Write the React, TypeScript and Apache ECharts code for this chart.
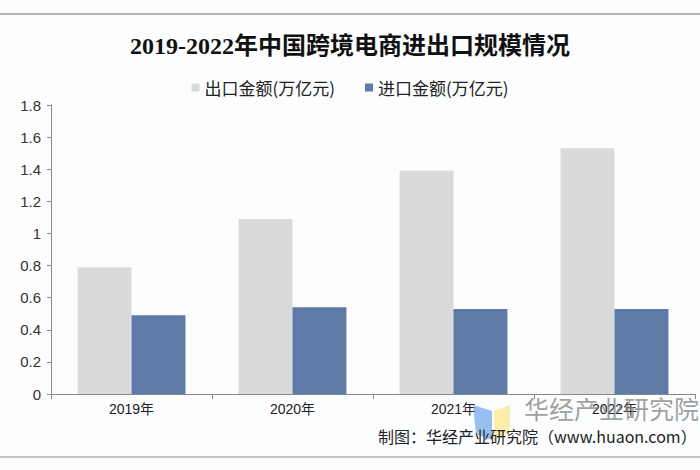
import React, { useEffect, useRef } from "react";
import * as echarts from "echarts";

const categories = ["2019年", "2020年", "2021年", "2022年"];
const exportValues = [0.79, 1.09, 1.39, 1.53];
const importValues = [0.49, 0.54, 0.53, 0.53];
const seriesNames = ["出口金额(万亿元)", "进口金额(万亿元)"];
const titleText = "2019-2022年中国跨境电商进出口规模情况";
const sourceText = "制图：华经产业研究院（www.huaon.com）";
const watermarkText = "华经产业研究院";

export default function App() {
  const ref = useRef<HTMLDivElement>(null);
  useEffect(() => {
    document.body.style.margin = "0";
    const chart = echarts.init(ref.current!, null, { renderer: "svg" });
    chart.setOption({
      animation: false,
      backgroundColor: "#fcfdfe",
      title: {
        text: titleText,
        left: "center",
        top: 29,
        textStyle: {
          fontFamily: "'Liberation Serif', 'Noto Sans CJK SC', serif",
          fontWeight: "bold",
          fontSize: 24,
          color: "#111",
        },
      },
      legend: {
        top: 74,
        left: "center",
        itemWidth: 8,
        itemHeight: 8,
        itemGap: 30,
        icon: "rect",
        textStyle: {
          fontFamily: "'Noto Sans CJK SC', sans-serif",
          fontSize: 17,
          color: "#222",
        },
        data: seriesNames,
      },
      grid: { left: 51, right: 5, top: 105, bottom: 76, containLabel: false },
      xAxis: {
        type: "category",
        data: categories,
        axisLine: { lineStyle: { color: "#888" } },
        axisTick: { show: true, length: 5, lineStyle: { color: "#888" } },
        axisLabel: {
          fontFamily: "'Liberation Sans', 'Noto Sans CJK SC', sans-serif",
          fontSize: 14,
          color: "#222",
          margin: 8,
        },
      },
      yAxis: {
        type: "value",
        min: 0,
        max: 1.8,
        interval: 0.2,
        axisLine: { show: true, lineStyle: { color: "#888" } },
        axisTick: { show: true, length: 4, lineStyle: { color: "#888" } },
        splitLine: { show: false },
        axisLabel: {
          fontFamily: "'Liberation Sans', sans-serif",
          fontSize: 15,
          color: "#333",
          margin: 10,
        },
      },
      series: [
        {
          name: seriesNames[0],
          type: "bar",
          data: exportValues,
          barGap: "0%",
          barCategoryGap: "33%",
          itemStyle: { color: "#d9dadc" },
        },
        {
          name: seriesNames[1],
          type: "bar",
          data: importValues,
          itemStyle: { color: "#5f7aa7" },
        },
      ],
      graphic: [
        { type: "line", shape: { x1: 0, y1: 14, x2: 700, y2: 14 }, style: { stroke: "#b5b5b5", lineWidth: 2 } },
        { type: "line", shape: { x1: 0, y1: 457, x2: 700, y2: 457 }, style: { stroke: "#b5b5b5", lineWidth: 1.5 } },
        {
          type: "polygon",
          shape: { points: [[473, 405], [492, 411], [492, 440], [476, 434]] },
          style: { fill: "rgba(120,170,235,0.75)" },
          z: 10,
        },
        {
          type: "polygon",
          shape: { points: [[494, 411], [510, 405], [510, 432], [494, 440]] },
          style: { fill: "rgba(250,232,150,0.8)" },
          z: 10,
        },
        {
          type: "text",
          left: 524,
          top: 395,
          z: 10,
          style: {
            text: watermarkText,
            fontFamily: "'Noto Sans CJK SC', sans-serif",
            fontSize: 25,
            fill: "rgba(130,130,130,0.75)",
          },
        },
        {
          type: "text",
          left: 378,
          top: 428,
          z: 11,
          style: {
            text: sourceText,
            fontFamily: "'Noto Sans CJK SC', sans-serif",
            fontSize: 16,
            fill: "#222",
          },
        },
      ],
    });
    return () => chart.dispose();
  }, []);
  return <div ref={ref} style={{ width: 700, height: 470 }} />;
}
